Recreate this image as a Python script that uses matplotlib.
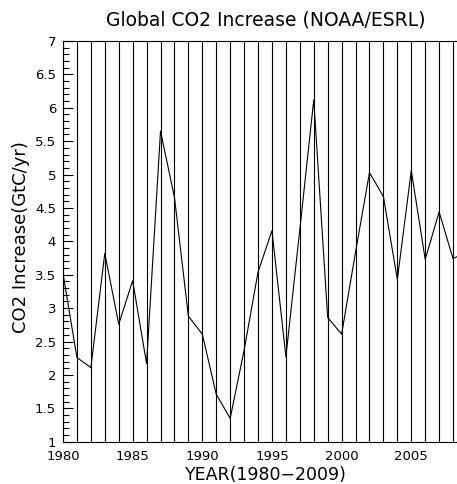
import matplotlib
matplotlib.use("Agg")
import matplotlib.pyplot as plt
from matplotlib.ticker import MultipleLocator, FixedLocator

years = list(range(1980, 2010))
co2_increase = [3.52, 2.26, 2.11, 3.82, 2.76, 3.41, 2.17, 5.65, 4.66, 2.88,
                2.61, 1.71, 1.35, 2.37, 3.54, 4.16, 2.27, 4.18, 6.12, 2.86,
                2.61, 3.84, 5.03, 4.67, 3.43, 5.06, 3.73, 4.44, 3.74, 3.85]
xticks_major = [1980, 1985, 1990, 1995, 2000, 2005]
yticks_major = [1, 1.5, 2, 2.5, 3, 3.5, 4, 4.5, 5, 5.5, 6, 6.5, 7]
ytick_labels = ['1', '1.5', '2', '2.5', '3', '3.5', '4', '4.5', '5', '5.5', '6', '6.5', '7']
title = "Global CO2 Increase (NOAA/ESRL)"
xlabel = "YEAR(1980\u22122009)"
ylabel = "CO2 Increase(GtC/yr)"

plt.rcParams['font.family'] = ['DejaVu Sans']

W, H = 457, 484
fig = plt.figure(figsize=(W/100, H/100), dpi=100)
ax = fig.add_axes([63/W, 1 - 441.7/H, 404/W, (441.7-41)/H])

ax.plot(years, co2_increase, color='black', lw=0.8, zorder=3)

ax.set_xlim(1980, 2009)
ax.set_ylim(1, 7)

ax.xaxis.set_major_locator(FixedLocator(xticks_major))
ax.xaxis.set_minor_locator(MultipleLocator(1))
ax.grid(True, axis='x', which='both', color='black', lw=0.8)
ax.tick_params(axis='x', which='both', length=0, pad=6, labelsize=9.5)

ax.yaxis.set_major_locator(FixedLocator(yticks_major))
ax.yaxis.set_minor_locator(MultipleLocator(0.1))
ax.tick_params(axis='y', which='major', direction='in', length=7, width=0.8,
               pad=5, labelsize=9.5, right=True)
ax.tick_params(axis='y', which='minor', direction='in', length=4, width=0.8, right=True)
ax.set_yticklabels(ytick_labels)

for s in ax.spines.values():
    s.set_linewidth(0.8)

fig.text(266/W, 1 - 20/H, title, fontsize=13.5, ha='center', va='center')
fig.text(266/W, 1 - 475/H, xlabel, fontsize=12.5, ha='center', va='center')
fig.text(21/W, 1 - 237/H, ylabel, fontsize=13, ha='center', va='center', rotation=90)

fig.savefig("out.png", dpi=100)
